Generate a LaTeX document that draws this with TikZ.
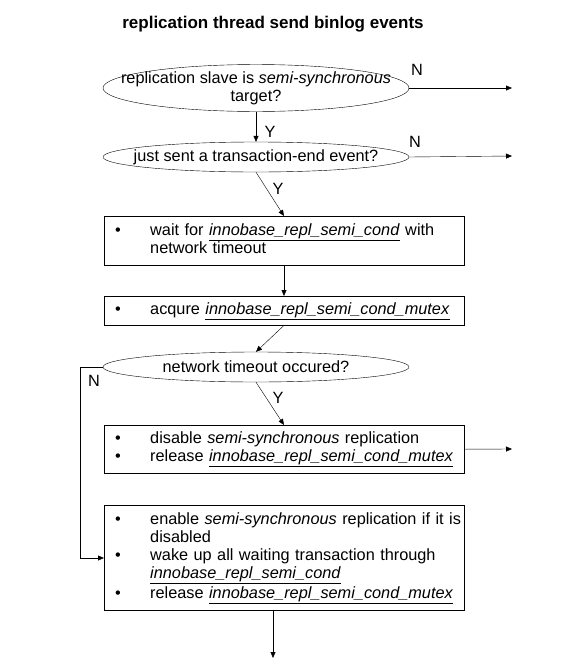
\documentclass[tikz,border=0pt]{standalone}
\usepackage{fontspec}
\setmainfont{Liberation Sans}
\usepackage{tikz}
\usetikzlibrary{shapes.geometric,arrows.meta,positioning,calc}
\newcommand{\ul}[1]{\underline{\textit{#1}}}
\newcommand{\blist}[1]{\begin{tabular}{@{\hspace{11pt}}p{35pt}@{}p{314pt}@{}}#1\end{tabular}}
\tikzset{
  dec/.style={draw,ellipse,align=center,minimum width=306pt,minimum height=30pt,inner ysep=0pt,inner xsep=-40pt},
  box/.style={draw,rectangle,anchor=north west,align=left,minimum width=360pt,inner sep=0pt,text width=360pt},
  arr/.style={-{Triangle[length=6pt,width=5pt]},thin},
  lbl/.style={inner sep=1pt}
}

\begin{document}
\begin{tikzpicture}[x=1pt,y=-1pt,font=\fontsize{16.3}{18}\selectfont]
\useasboundingbox (0,0) rectangle (576,672);
\node[font=\fontsize{17}{20}\selectfont\bfseries] (title) at (273,24) {replication thread send binlog events};
% decisions
\node[dec,minimum height=36pt] (slv) at (256,88) {replication slave is \textit{semi-synchronous}\\target?};
\node[dec] (end) at (256,157) {just sent a transaction-end event?};
\node[dec] (tmo) at (256,367) {network timeout occured?};
% boxes
\node[box,minimum height=49pt] (wait) at (104,216) {\blist{\textbullet & wait for \ul{innobase\_repl\_semi\_cond} with network timeout}};
\node[box,minimum height=29pt] (acq) at (104,296) {\blist{\textbullet & acqure \ul{innobase\_repl\_semi\_cond\_mutex}}};
\node[box,minimum height=48pt] (dis) at (104,425) {\blist{\textbullet & disable \textit{semi-synchronous} replication\\ \textbullet & release \ul{innobase\_repl\_semi\_cond\_mutex}}};
\node[box,minimum height=105pt] (ena) at (104,505) {\blist{\textbullet & enable \textit{semi-synchronous} replication if it is disabled\\ \textbullet & wake up all waiting transaction through \ul{innobase\_repl\_semi\_cond}\\[2pt] \textbullet & release \ul{innobase\_repl\_semi\_cond\_mutex}}};
% free ends
\coordinate (o1) at (512,88);
\coordinate (o2) at (512,156);
\coordinate (o3) at (512,449);
\coordinate (o4) at (273,658);
\coordinate (lft) at (80,367);
% connectors
\draw[arr] (slv.east) -- (o1);
\node[lbl] at (417,70) {N};
\draw[arr] (slv.south) -- (end.north);
\node[lbl] at (270,132) {Y};
\draw[arr] (end.east) -- (o2);
\node[lbl] at (415,142) {N};
\draw[arr] (end.south) -- (wait.north -| 284,0);
\node[lbl] at (278,189) {Y};
\draw[arr] (wait.south -| 284,0) -- (acq.north -| 284,0);
\draw[arr] (acq.south -| 284,0) -- (tmo.north);
\draw[arr] (tmo.south) -- (dis.north -| 284,0);
\node[lbl] at (278,398) {Y};
\draw[arr] (dis.east) -- (o3);
\draw[arr] (tmo.west) -- (lft) |- (ena.west |- 0,558);
\node[lbl] at (94,381) {N};
\draw[arr] (ena.south -| o4) -- (o4);
\end{tikzpicture}
\end{document}
